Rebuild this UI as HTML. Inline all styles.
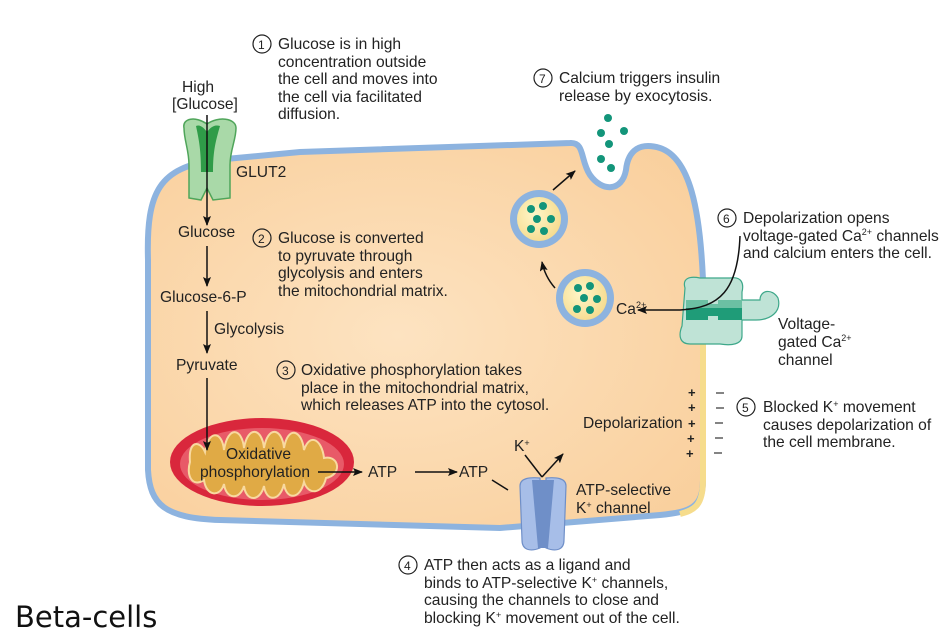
<!DOCTYPE html>
<html><head><meta charset="utf-8"><style>
html,body{margin:0;padding:0;background:#fff;}
svg{display:block;}
text{font-family:"Liberation Sans",Arial,sans-serif;font-size:15.6px;fill:#222;}
</style></head><body>
<svg width="950" height="632" viewBox="0 0 950 632" xmlns="http://www.w3.org/2000/svg">
<defs>
<marker id="ah" markerWidth="10" markerHeight="8" refX="9" refY="4" orient="auto" markerUnits="userSpaceOnUse"><path d="M0,0 L10,4 L0,8 L2,4 Z" fill="#111"/></marker>
<radialGradient id="cg" cx="0.45" cy="0.5" r="0.7"><stop offset="0" stop-color="#fde3c1"/><stop offset="1" stop-color="#f9cf9c"/></radialGradient>
<radialGradient id="vg" cx="0.4" cy="0.4" r="0.7"><stop offset="0" stop-color="#fff6c8"/><stop offset="1" stop-color="#f5d98a"/></radialGradient>
</defs>
<path d="M148,260 C146,190 160,168 215,160 L300,152 L570,143 C585,142 580,160 590,175 C602,192 622,192 626,170 C628,150 640,142 660,148 C690,158 700,210 703,280 L703,480 C703,508 690,512 660,515 L500,528 L220,520 C165,518 150,505 148,470 Z" fill="url(#cg)" stroke="#8db3df" stroke-width="6"/>
<path d="M703,335 L703,480 C703,505 695,510 680,514" fill="none" stroke="#f6dc8c" stroke-width="6"/>
<path d="M184,128 C182,118 196,116 207,124 C218,116 236,118 236,128 C236,140 230,150 230,165 L230,198 L213,200 L207,188 L201,200 L189,198 L189,165 C189,150 184,140 184,128 Z" fill="#a9d9a8" stroke="#4fa55a" stroke-width="1.5"/>
<path d="M196,126 C200,124 204,128 207,132 C210,128 214,124 220,126 C216,140 213,150 213,172 L201,172 C201,150 199,140 196,126 Z" fill="#2f9c48"/>
<line x1="207" y1="115" x2="207" y2="225" stroke="#111" stroke-width="1.5" marker-end="url(#ah)"/>
<text x="182" y="92">High</text>
<text x="172" y="109">[Glucose]</text>
<text x="236" y="177">GLUT2</text>
<text x="178" y="237">Glucose</text>
<line x1="207" y1="246" x2="207" y2="286" stroke="#111" stroke-width="1.5" marker-end="url(#ah)"/>
<text x="160" y="302">Glucose-6-P</text>
<line x1="207" y1="311" x2="207" y2="353" stroke="#111" stroke-width="1.5" marker-end="url(#ah)"/>
<text x="214" y="334">Glycolysis</text>
<text x="176" y="370">Pyruvate</text>
<ellipse cx="262" cy="462" rx="92" ry="44" fill="#d9273c"/>
<ellipse cx="262" cy="464" rx="82" ry="36" fill="#e85a68"/>
<path d="M190,462 C188,440 200,440 205,452 C208,430 222,430 224,450 C228,425 242,428 244,448 C248,425 262,428 264,448 C268,425 282,428 284,448 C288,425 302,430 304,450 C310,432 322,440 324,458 C340,455 342,475 326,478 C322,495 308,495 304,482 C300,500 286,500 284,484 C280,502 266,502 264,486 C260,502 246,502 244,486 C240,500 226,500 224,484 C220,498 206,496 204,480 C192,488 186,475 190,462 Z" fill="#e0aa45" stroke="#f8d9a0" stroke-width="2"/>
<line x1="207" y1="378" x2="207" y2="450" stroke="#111" stroke-width="1.5" marker-end="url(#ah)"/>
<text x="226" y="459">Oxidative</text>
<text x="200" y="477">phosphorylation</text>
<line x1="318" y1="472" x2="362" y2="472" stroke="#111" stroke-width="1.5" marker-end="url(#ah)"/>
<text x="368" y="477">ATP</text>
<line x1="415" y1="472" x2="457" y2="472" stroke="#111" stroke-width="1.5" marker-end="url(#ah)"/>
<text x="459" y="477">ATP</text>
<line x1="492" y1="480" x2="508" y2="490" stroke="#111" stroke-width="1.5"/>
<path d="M520,486 C520,478 530,477 540,478 L540,548 C530,552 522,550 522,540 Z" fill="#a7bee8" stroke="#6f8fc8" stroke-width="1.2"/>
<path d="M566,486 C566,478 556,477 546,478 L546,548 C556,552 564,550 564,540 Z" fill="#a7bee8" stroke="#6f8fc8" stroke-width="1.2"/>
<path d="M532,480 L554,480 L548,548 L538,548 Z" fill="#6f8fc8"/>
<text x="514" y="451">K<tspan font-size="9" dy="-5">+</tspan></text>
<line x1="525" y1="455" x2="542" y2="477" stroke="#111" stroke-width="1.5"/>
<line x1="542" y1="477" x2="563" y2="454" stroke="#111" stroke-width="1.5" marker-end="url(#ah)"/>
<text x="576" y="495">ATP-selective</text>
<text x="576" y="513">K<tspan font-size="9" dy="-5">+</tspan><tspan dy="5"> channel</tspan></text>
<text x="583" y="428">Depolarization</text>
<g font-weight="bold">
<text x="688" y="397" style="font-size:13px">+</text><text x="688" y="412" style="font-size:13px">+</text><text x="688" y="428" style="font-size:13px">+</text><text x="687" y="443" style="font-size:13px">+</text><text x="686" y="458" style="font-size:13px">+</text>
</g>
<g stroke="#333" stroke-width="1.2">
<line x1="716" y1="393" x2="724" y2="393"/><line x1="716" y1="408" x2="724" y2="408"/><line x1="715" y1="423" x2="723" y2="423"/><line x1="715" y1="438" x2="723" y2="438"/><line x1="714" y1="453" x2="722" y2="453"/>
</g>
<circle cx="539" cy="219" r="29" fill="#8db3df"/><circle cx="539" cy="219" r="22" fill="url(#vg)"/>
<circle cx="585" cy="298" r="29" fill="#8db3df"/><circle cx="585" cy="298" r="22" fill="url(#vg)"/>
<g fill="#13957a">
<circle cx="531" cy="209" r="4"/><circle cx="543" cy="206" r="4"/><circle cx="537" cy="219" r="4"/><circle cx="551" cy="219" r="4"/><circle cx="531" cy="229" r="4"/><circle cx="544" cy="231" r="4"/>
<circle cx="578" cy="288" r="4"/><circle cx="590" cy="286" r="4"/><circle cx="584" cy="298" r="4"/><circle cx="597" cy="299" r="4"/><circle cx="577" cy="309" r="4"/><circle cx="590" cy="310" r="4"/>
<circle cx="608" cy="118" r="4"/><circle cx="624" cy="131" r="4"/><circle cx="601" cy="133" r="4"/><circle cx="609" cy="144" r="4"/><circle cx="601" cy="159" r="4"/><circle cx="611" cy="168" r="4"/>
</g>
<line x1="553" y1="190" x2="575" y2="171" stroke="#111" stroke-width="1.5" marker-end="url(#ah)"/>
<path d="M555,288 C548,280 544,272 542,262" fill="none" stroke="#111" stroke-width="1.5" marker-end="url(#ah)"/>
<path d="M685,288 C682,278 690,276 700,278 L730,278 C742,276 744,284 742,292 L742,300 L760,300 C760,290 772,288 778,298 C782,312 770,320 756,320 L742,320 L742,336 C742,344 732,346 720,344 L690,344 C680,344 678,336 682,326 Z" fill="#bfe3d6" stroke="#3ea88a" stroke-width="1.2"/>
<path d="M686,300 L742,300 L742,320 L686,320 Z" fill="#1f9c78"/>
<path d="M686,300 L742,300 L742,308 L686,308 Z" fill="#6cc0a3"/>
<path d="M708,294 L718,294 L718,304 L708,304 Z" fill="#bfe3d6"/>
<path d="M708,316 L718,316 L718,326 L708,326 Z" fill="#bfe3d6"/>
<path d="M740,236 C738,290 720,308 680,310 L638,310" fill="none" stroke="#111" stroke-width="1.5" marker-end="url(#ah)"/>
<text x="616" y="314">Ca<tspan font-size="9" dy="-6">2+</tspan></text>
<text x="778" y="329">Voltage-</text>
<text x="778" y="347">gated Ca<tspan font-size="9" dy="-6">2+</tspan></text>
<text x="778" y="365">channel</text>
<g fill="none" stroke="#222" stroke-width="1.2">
<circle cx="262" cy="44" r="9"/><circle cx="262" cy="238" r="9"/><circle cx="286" cy="370" r="9"/><circle cx="408" cy="565" r="9"/><circle cx="746" cy="407" r="9"/><circle cx="727" cy="218" r="9"/><circle cx="543" cy="78" r="9"/>
</g>
<g>
<text x="258" y="49" style="font-size:12px">1</text><text x="258" y="243" style="font-size:12px">2</text><text x="282" y="375" style="font-size:12px">3</text><text x="404" y="570" style="font-size:12px">4</text><text x="742" y="412" style="font-size:12px">5</text><text x="723" y="223" style="font-size:12px">6</text><text x="539" y="83" style="font-size:12px">7</text>
</g>
<text x="278" y="49">Glucose is in high</text>
<text x="278" y="67">concentration outside</text>
<text x="278" y="84">the cell and moves into</text>
<text x="278" y="102">the cell via facilitated</text>
<text x="278" y="119">diffusion.</text>
<text x="559" y="83">Calcium triggers insulin</text>
<text x="559" y="101">release by exocytosis.</text>
<text x="278" y="243">Glucose is converted</text>
<text x="278" y="261">to pyruvate through</text>
<text x="278" y="278">glycolysis and enters</text>
<text x="278" y="296">the mitochondrial matrix.</text>
<text x="301" y="375">Oxidative phosphorylation takes</text>
<text x="301" y="393">place in the mitochondrial matrix,</text>
<text x="301" y="410">which releases ATP into the cytosol.</text>
<text x="743" y="223">Depolarization opens</text>
<text x="743" y="241">voltage-gated Ca<tspan font-size="9" dy="-6">2+</tspan><tspan dy="6"> channels</tspan></text>
<text x="743" y="258">and calcium enters the cell.</text>
<text x="763" y="412">Blocked K<tspan font-size="9" dy="-5">+</tspan><tspan dy="5"> movement</tspan></text>
<text x="763" y="430">causes depolarization of</text>
<text x="763" y="447">the cell membrane.</text>
<text x="424" y="570">ATP then acts as a ligand and</text>
<text x="424" y="588">binds to ATP-selective K<tspan font-size="9" dy="-5">+</tspan><tspan dy="5"> channels,</tspan></text>
<text x="424" y="605">causing the channels to close and</text>
<text x="424" y="623">blocking K<tspan font-size="9" dy="-5">+</tspan><tspan dy="5"> movement out of the cell.</tspan></text>
<text x="15" y="627" style="font-size:29px;fill:#111;font-family:'DejaVu Sans','Liberation Sans',sans-serif">Beta-cells</text>
</svg>
</body></html>
